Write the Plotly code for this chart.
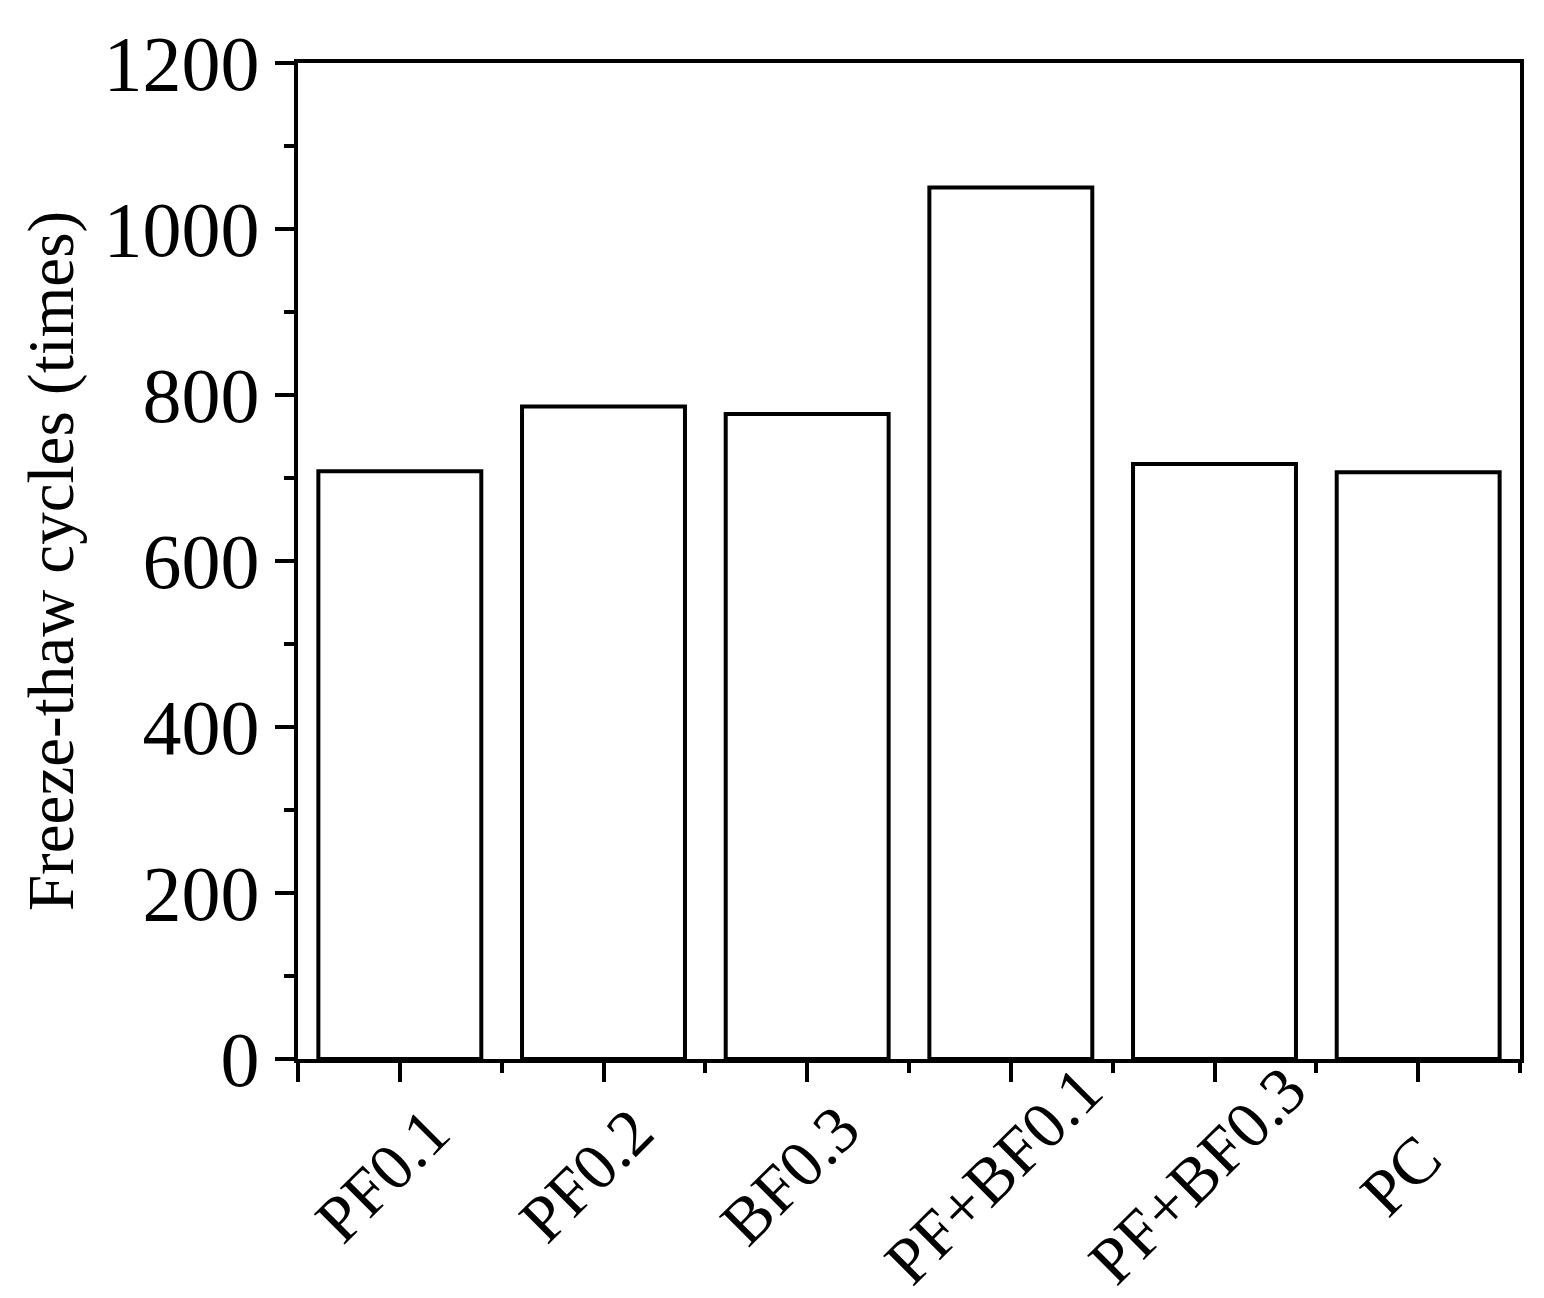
import plotly.graph_objects as go

# freeze-thaw durability per mix
categories = ['PF0.1', 'PF0.2', 'BF0.3', 'PF+BF0.1', 'PF+BF0.3', 'PC']
cycles = [708, 786, 777, 1050, 717, 707]

y_ticks = [0, 200, 400, 600, 800, 1000, 1200]

FONT = 'Liberation Serif, Times New Roman, serif'
positions = list(range(len(categories)))

fig = go.Figure()
fig.add_trace(
    go.Bar(
        x=positions,
        y=cycles,
        width=0.8,
        marker=dict(color='white', line=dict(color='black', width=4)),
        showlegend=False,
        hoverinfo='skip',
    )
)

# rotated category labels under the axis
for pos, name in zip(positions, categories):
    fig.add_annotation(
        x=pos, y=0, xref='x', yref='y',
        text=name, showarrow=False, textangle=-45,
        xanchor='center', yanchor='middle',
        xshift=-18, yshift=-116,
        font=dict(family=FONT, size=66, color='black'),
    )

fig.update_xaxes(
    range=[-0.5, len(categories) - 0.5],
    tickmode='array', tickvals=[-0.5] + positions, showticklabels=False,
    ticks='outside', ticklen=19, tickwidth=4, tickcolor='black',
    minor=dict(tickmode='array', tickvals=[p - 0.5 for p in positions] + [positions[-1] + 0.5],
               ticks='outside', ticklen=10, tickwidth=4, tickcolor='black'),
    showline=True, linewidth=4, linecolor='black', mirror=True,
    showgrid=False, zeroline=False,
)
fig.update_yaxes(
    range=[0, 1200], tickmode='array', tickvals=y_ticks,
    ticks='outside', ticklen=19, tickwidth=4, tickcolor='black',
    minor=dict(dtick=100, tick0=0, ticks='outside', ticklen=10, tickwidth=4, tickcolor='black'),
    tickfont=dict(family=FONT, size=78, color='black'),
    title=dict(text='Freeze-thaw cycles (times)', font=dict(family=FONT, size=65, color='black'), standoff=10),
    showline=True, linewidth=4, linecolor='black', mirror=True,
    showgrid=False, zeroline=False,
)
fig.update_layout(
    width=1528, height=1282,
    margin=dict(l=290, r=12, t=49, b=231),
    plot_bgcolor='white', paper_bgcolor='white',
    font=dict(family=FONT, color='black'),
)

fig.write_html("out.html")
